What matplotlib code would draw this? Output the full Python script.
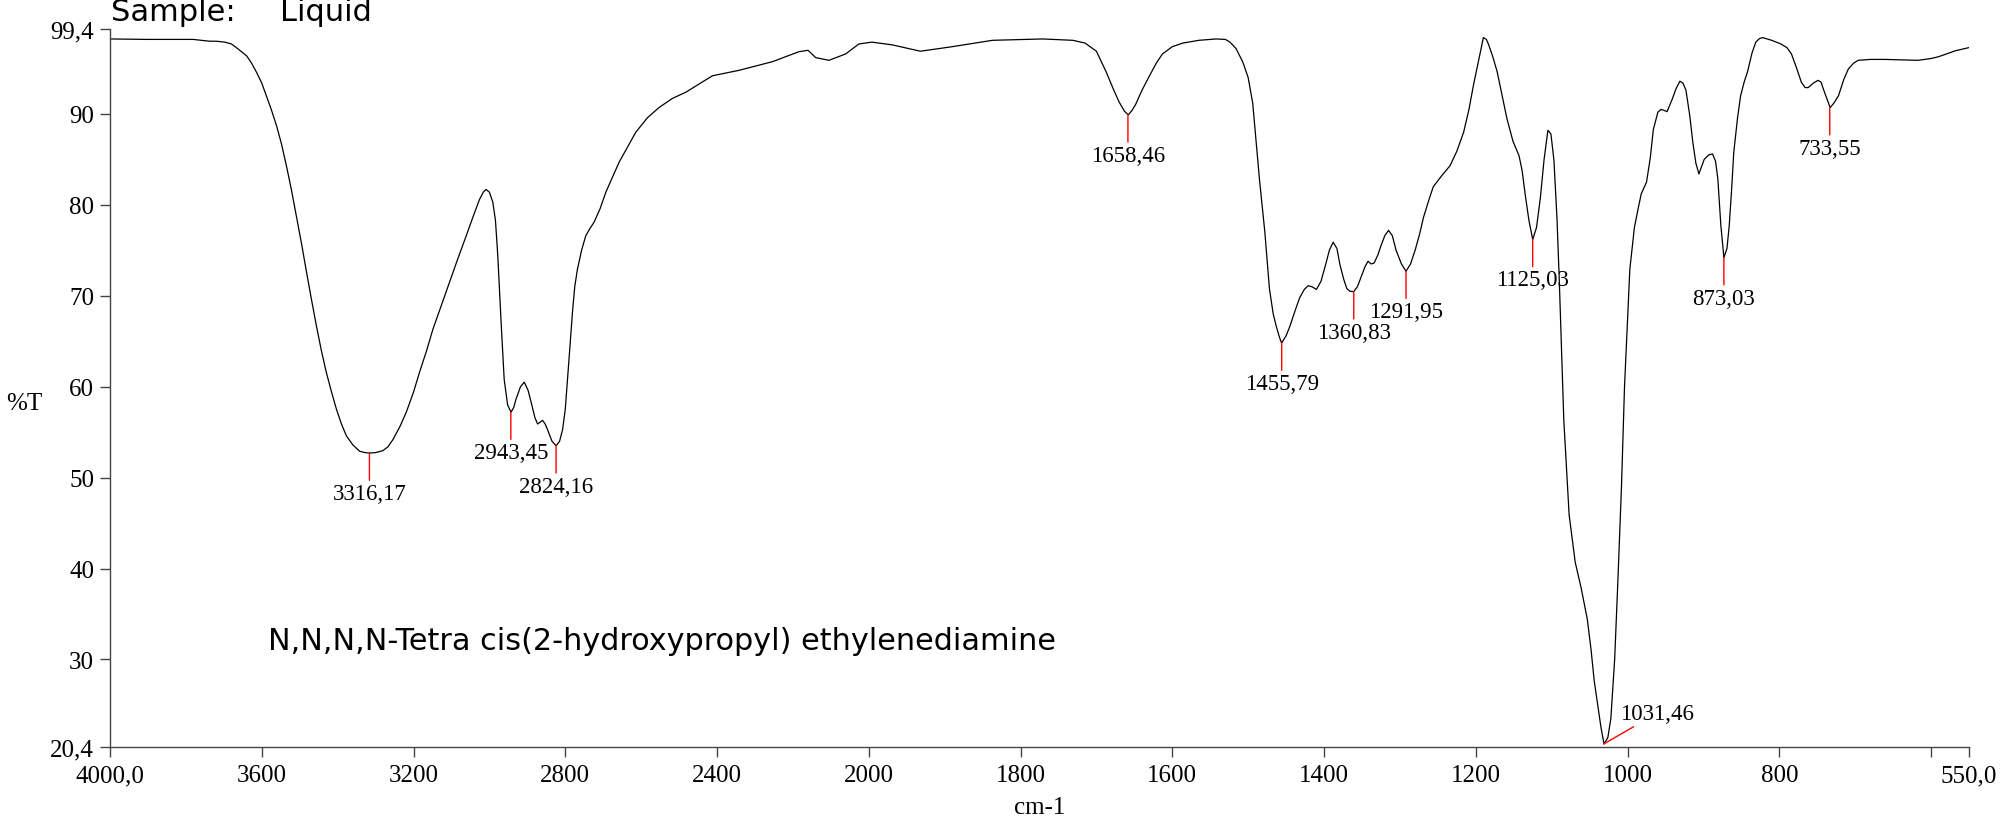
import numpy as np
import matplotlib.pyplot as plt

plt.rcParams['font.family'] = 'Liberation Serif'

# spectrum (cm-1, %T)
wavenumber = [4000, 3900, 3781, 3737, 3720, 3697, 3680, 3667, 3655, 3640, 3627, 3614,
              3600, 3588, 3575, 3561, 3548, 3535, 3522, 3509, 3495, 3482, 3469, 3456,
              3443, 3430, 3416, 3403, 3390, 3377, 3360, 3342, 3328, 3316, 3300, 3281,
              3267, 3254, 3236, 3219, 3200, 3184, 3166, 3149, 3127, 3105, 3083, 3061,
              3043, 3026, 3016, 3009, 3000, 2991, 2984, 2978, 2969, 2961, 2952, 2943,
              2936, 2930, 2918, 2908, 2898, 2890, 2880, 2873, 2866, 2860, 2853, 2847,
              2835, 2824, 2815, 2807, 2800, 2794, 2787, 2781, 2775, 2768, 2757, 2746,
              2735, 2724, 2708, 2693, 2658, 2614, 2583, 2553, 2518, 2482, 2412, 2342,
              2254, 2184, 2160, 2140, 2105, 2061, 2026, 2009, 1996, 1969, 1932, 1890,
              1837, 1771, 1731, 1715, 1700, 1687, 1677, 1670, 1663, 1658, 1653, 1648,
              1640, 1630, 1621, 1613, 1600, 1586, 1565, 1542, 1530, 1524, 1516, 1507,
              1500, 1494, 1485, 1478, 1472, 1467, 1463, 1459, 1456, 1450, 1445, 1438,
              1432, 1426, 1421, 1416, 1410, 1404, 1398, 1393, 1388, 1383, 1379, 1374,
              1370, 1366, 1361, 1356, 1351, 1346, 1342, 1338, 1334, 1329, 1325, 1320,
              1315, 1310, 1305, 1298, 1292, 1286, 1280, 1274, 1269, 1262, 1256, 1245,
              1234, 1225, 1216, 1209, 1203, 1196, 1190, 1186, 1183, 1178, 1172, 1166,
              1159, 1151, 1143, 1139, 1135, 1130, 1125, 1120, 1115, 1110, 1105, 1101,
              1097, 1093, 1090, 1084, 1077, 1069, 1061, 1053, 1048, 1044, 1039, 1035,
              1031, 1026, 1022, 1017, 1013, 1008, 1004, 997, 991, 986, 982, 975,
              970, 966, 960, 956, 952, 948, 941, 936, 931, 927, 923, 918,
              914, 910, 906, 902, 899, 893, 888, 884, 881, 877, 873, 869,
              866, 863, 860, 855, 851, 846, 842, 836, 831, 826, 822, 810,
              798, 790, 784, 777, 771, 766, 762, 755, 749, 745, 742, 737,
              733, 728, 722, 715, 709, 702, 696, 680, 661, 640, 617, 600,
              590, 580, 568, 550]
transmittance = [98.25, 98.2, 98.2, 98.0, 98.0, 97.9, 97.7, 97.3, 96.9, 96.4, 95.6, 94.6,
                 93.4, 92.0, 90.5, 88.7, 86.7, 84.3, 81.7, 78.8, 75.7, 72.6, 69.6, 66.7,
                 64.0, 61.6, 59.4, 57.5, 55.9, 54.6, 53.6, 52.9, 52.75, 52.7, 52.75, 52.96,
                 53.4, 54.2, 55.6, 57.2, 59.4, 61.6, 63.9, 66.3, 68.9, 71.5, 74.1, 76.6,
                 78.7, 80.6, 81.4, 81.7, 81.4, 80.3, 78.3, 74.5, 67.0, 60.8, 58.0, 57.2,
                 57.7, 58.6, 60.0, 60.5, 59.6, 58.3, 56.6, 55.9, 56.1, 56.3, 55.9, 55.3,
                 54.0, 53.5, 54.0, 55.3, 57.5, 60.8, 64.8, 68.2, 71.0, 72.9, 75.0, 76.6,
                 77.4, 78.1, 79.6, 81.4, 84.7, 88.0, 89.6, 90.7, 91.7, 92.4, 94.2, 94.8,
                 95.75, 96.85, 97.0, 96.2, 95.9, 96.6, 97.7, 97.8, 97.9, 97.6, 96.9, 97.4,
                 98.1, 98.25, 98.1, 97.8, 96.9, 94.6, 92.6, 91.3, 90.3, 89.9, 90.4, 91.1,
                 92.6, 94.2, 95.6, 96.6, 97.4, 97.8, 98.1, 98.25, 98.2, 97.9, 97.2, 95.7,
                 94.0, 91.2, 82.7, 77.0, 70.8, 68.0, 66.65, 65.5, 64.8, 65.6, 66.65, 68.4,
                 69.8, 70.7, 71.1, 71.0, 70.7, 71.6, 73.4, 75.0, 75.9, 75.2, 73.4, 71.8,
                 70.8, 70.5, 70.45, 71.0, 72.1, 73.2, 73.8, 73.5, 73.6, 74.5, 75.5, 76.6,
                 77.2, 76.6, 75.0, 73.5, 72.7, 73.5, 75.0, 76.8, 78.6, 80.5, 82.0, 83.2,
                 84.3, 85.9, 88.0, 90.5, 93.2, 96.0, 98.4, 98.2, 97.6, 96.4, 94.7, 92.3,
                 89.5, 87.0, 85.4, 83.8, 81.2, 78.3, 76.2, 77.5, 80.7, 85.0, 88.2, 87.8,
                 84.9, 78.5, 71.8, 56.3, 45.9, 40.7, 37.8, 34.4, 31.0, 27.7, 24.8, 22.5,
                 20.7, 21.4, 23.5, 30.0, 38.1, 49.0, 60.0, 72.9, 77.5, 79.6, 81.2, 82.5,
                 85.2, 88.3, 90.2, 90.5, 90.4, 90.25, 91.65, 92.8, 93.6, 93.4, 92.6, 89.8,
                 86.9, 84.6, 83.4, 84.3, 85.0, 85.5, 85.6, 84.8, 82.85, 77.7, 74.2, 75.2,
                 77.7, 81.5, 85.8, 89.6, 92.0, 93.6, 94.6, 96.7, 97.9, 98.3, 98.4, 98.1,
                 97.7, 97.3, 96.6, 95.0, 93.5, 92.9, 92.9, 93.4, 93.7, 93.5, 92.75, 91.6,
                 90.7, 91.2, 92.0, 93.8, 94.95, 95.6, 95.9, 96.0, 96.0, 95.95, 95.9, 96.1,
                 96.3, 96.6, 96.95, 97.3]

peak_pos = [3316.17, 2943.45, 2824.16, 1658.46, 1455.79, 1360.83, 1291.95, 1125.03, 873.03, 733.55]
peak_T = [52.7, 57.2, 53.5, 89.9, 64.8, 70.45, 72.7, 76.2, 74.2, 90.7]
peak_text = ['3316,17', '2943,45', '2824,16', '1658,46', '1455,79', '1360,83', '1291,95',
             '1125,03', '873,03', '733,55']

big_peak = 1031.46
big_peak_T = 20.7
big_peak_text = '1031,46'

xticks = [4000, 3600, 3200, 2800, 2400, 2000, 1800, 1600, 1400, 1200, 1000, 800, 600, 550]
xticklabels = ['4000,0', '3600', '3200', '2800', '2400', '2000', '1800', '1600', '1400',
               '1200', '1000', '800', '', '550,0']
yticks = [99.4, 90, 80, 70, 60, 50, 40, 30, 20.4]
yticklabels = ['99,4', '90', '80', '70', '60', '50', '40', '30', '20,4']


# spectrometer style axis: scale doubles below 2000 cm-1
def fwd(w):
    w = np.asarray(w, dtype=float)
    return np.where(w > 2000, 2000 + (w - 2000) / 2.0, w)


def inv(u):
    u = np.asarray(u, dtype=float)
    return np.where(u > 2000, 2000 + (u - 2000) * 2.0, u)


fig = plt.figure(figsize=(20.03, 8.2), dpi=100)
ax = fig.add_axes([110 / 2003, 1 - 747.7 / 820, 1859 / 2003, 718.2 / 820])
ax.set_xscale('function', functions=(fwd, inv))
ax.plot(wavenumber, transmittance, color='black', lw=0.9)
ax.set_xlim(4000, 550)
ax.set_ylim(20.4, 99.4)

for s in ['top', 'right']:
    ax.spines[s].set_visible(False)
for s in ['left', 'bottom']:
    ax.spines[s].set_color('#444444')
    ax.spines[s].set_linewidth(1.0)

ax.set_xticks(xticks)
ax.set_xticklabels(xticklabels)
ax.set_yticks(yticks)
ax.set_yticklabels(yticklabels)
ax.minorticks_off()
ax.tick_params(axis='both', direction='out', length=7.5, width=1, color='#444444',
               labelsize=18)
ax.tick_params(axis='x', pad=5)
ax.tick_params(axis='y', pad=4)

for p, t, lab in zip(peak_pos, peak_T, peak_text):
    ax.annotate(lab, xy=(p, t), xytext=(0, -30), textcoords='offset pixels',
                ha='center', va='top', fontsize=16.5,
                arrowprops=dict(arrowstyle='-', color='red', lw=1,
                                shrinkA=0, shrinkB=0))

ax.annotate(big_peak_text, xy=(big_peak, big_peak_T), xytext=(53, 20),
            textcoords='offset pixels', ha='center', va='bottom', fontsize=16.5,
            arrowprops=dict(arrowstyle='-', color='red', lw=1, shrinkA=0, shrinkB=0))

fig.text(6 / 2003, 1 - 404 / 820, '%T', fontsize=18, va='center', ha='left')
fig.text(1040 / 2003, 1 - 808 / 820, 'cm-1', fontsize=18, va='center', ha='center')

fig.text(111 / 2003, 1 - 20.7 / 820, 'Sample:', fontsize=22, va='baseline',
         family='DejaVu Sans')
fig.text(280 / 2003, 1 - 20.7 / 820, 'Liquid', fontsize=22, va='baseline',
         family='DejaVu Sans')
ax.text(268 / 2003, 1 - 650 / 820, 'N,N,N,N-Tetra cis(2-hydroxypropyl) ethylenediamine',
        transform=fig.transFigure, fontsize=21.8, va='baseline', family='DejaVu Sans')

fig.savefig('out.png', dpi=100)
